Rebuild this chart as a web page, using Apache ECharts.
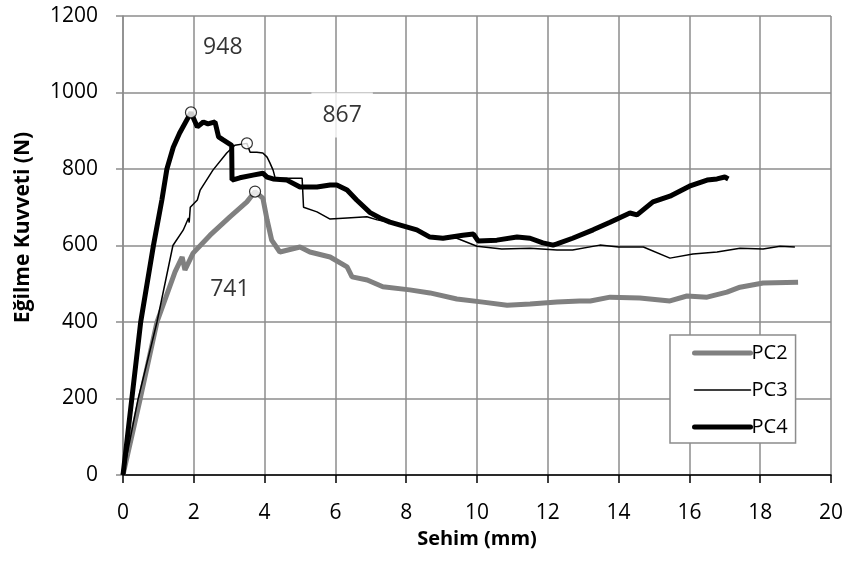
<!DOCTYPE html>
<html><head><meta charset="utf-8">
<script src="https://cdn.jsdelivr.net/npm/echarts@6/dist/echarts.min.js"></script>
<style>html,body{margin:0;padding:0;background:#fff}#c{width:850px;height:567px}</style>
</head><body><div id="c"></div>
<script>
const xTicks = [0,2,4,6,8,10,12,14,16,18,20];
const yTicks = [0,200,400,600,800,1000,1200];
const seriesNames = ['PC2','PC3','PC4'];
const pc2 = [[0,0],[0.5,205],[0.96,400],[1.47,531],[1.67,570],[1.75,536],[1.98,580],[2.46,627],[3.02,675],[3.5,714],[3.73,741],[3.95,724],[4.07,667],[4.2,614],[4.43,583],[5.0,596],[5.28,583],[5.85,570],[6.33,544],[6.47,518],[6.9,510],[7.34,492],[8.1,484],[8.67,476],[9.43,460],[10.17,452],[10.85,444],[11.5,447],[12.26,452],[12.9,455],[13.2,455],[13.76,465],[14.6,463],[15.45,455],[15.93,468],[16.5,465],[17.06,478],[17.43,491],[18.08,502],[19.07,504]];
const pc3 = [[0,0],[0.42,196],[0.96,400],[1.41,600],[1.7,640],[1.85,672],[1.87,660],[1.9,700],[2.1,719],[2.18,745],[2.54,797],[2.93,842],[3.16,862],[3.5,867],[3.59,844],[3.78,844],[3.95,842],[4.07,831],[4.15,816],[4.24,797],[4.3,776],[5.06,776],[5.1,700],[5.48,688],[5.85,669],[6.33,672],[6.89,675],[7.18,667],[7.54,660],[8.3,640],[8.67,622],[9.04,619],[9.43,619],[10.0,598],[10.7,591],[11.5,593],[12.26,588],[12.7,588],[13.47,601],[14.0,596],[14.7,596],[15.45,567],[16.1,578],[16.78,583],[17.43,593],[18.08,591],[18.56,598],[18.98,596]];
const pc4 = [[0,0],[0.5,400],[0.86,600],[1.1,720],[1.24,800],[1.42,857],[1.6,894],[1.92,948],[2.1,910],[2.27,923],[2.4,918],[2.6,923],[2.7,884],[2.83,876],[3.07,862],[3.08,771],[3.3,777],[3.67,784],[3.95,789],[4.07,779],[4.24,774],[4.63,771],[5.0,753],[5.48,753],[5.85,758],[6.04,758],[6.33,745],[6.6,719],[6.98,686],[7.26,672],[7.54,661],[8.3,641],[8.67,622],[9.04,619],[9.6,627],[9.9,630],[10.03,612],[10.56,614],[11.13,622],[11.5,619],[11.86,607],[12.15,601],[12.26,604],[12.7,619],[13.28,641],[13.76,661],[14.32,685],[14.52,680],[14.97,714],[15.45,729],[16.0,755],[16.5,771],[16.78,774],[17.0,779],[17.1,774]];
const peaks = [[1.92,948],[3.5,867],[3.73,741]];
const peakLabels = ['948','867','741'];
const labelAnchors = [[2.82,1119],[6.19,941],[3.02,484]];

const FONT = 'Open Sans';
const lineColors = {PC2:'#808080',PC3:'#000',PC4:'#000'};
const lineWidths = {PC2:5,PC3:1.5,PC4:5};
const chart = echarts.init(document.getElementById('c'));
chart.setOption({
  animation:false,
  textStyle:{fontFamily:FONT},
  grid:{left:123,right:19,top:16,bottom:92,containLabel:false,outerBoundsMode:'none'},
  xAxis:{type:'value',min:0,max:20,interval:2,
    name:'Sehim (mm)',nameLocation:'middle',nameGap:54,nameMoveOverlap:false,
    nameTextStyle:{fontFamily:FONT,fontWeight:'bold',fontSize:20,color:'#000'},
    axisLine:{show:true,lineStyle:{color:'#000',width:1.5}},
    axisTick:{show:true,length:8,lineStyle:{color:'#000',width:1.5}},
    axisLabel:{fontSize:21,color:'#000',margin:28,formatter:v=>xTicks.includes(v)?String(v):''},
    splitLine:{show:true,lineStyle:{color:'#8c8c8c',width:1.5}}},
  yAxis:{type:'value',min:0,max:1200,interval:200,
    name:'Eğilme Kuvveti (N)',nameLocation:'middle',nameGap:89,nameMoveOverlap:false,
    nameTextStyle:{fontFamily:FONT,fontWeight:'bold',fontSize:21,color:'#000',padding:[0,0,0,36]},
    axisLine:{show:true,lineStyle:{color:'#8c8c8c',width:1.5}},
    axisTick:{show:true,length:7,lineStyle:{color:'#8c8c8c',width:1.5}},
    axisLabel:{fontSize:21,color:'#000',margin:25,formatter:v=>yTicks.includes(v)?String(v):''},
    splitLine:{show:true,lineStyle:{color:'#8c8c8c',width:1.5}}},
  legend:{orient:'vertical',left:670,top:335,width:130,
    backgroundColor:'#fff',borderColor:'#8c8c8c',borderWidth:1.5,
    padding:[8,8,6,22],itemGap:17,itemWidth:56,itemHeight:18,
    textStyle:{fontFamily:FONT,fontSize:20,color:'#000',padding:[0,0,0,-4]},
    data:seriesNames.map(n=>({name:n,itemStyle:{opacity:0},
      lineStyle:{color:lineColors[n],width:lineWidths[n],cap:'round'}}))},
  series:[
    {name:'PC2',type:'line',data:pc2,symbol:'none',lineStyle:{color:lineColors.PC2,width:lineWidths.PC2},itemStyle:{color:'#808080'},z:2},
    {name:'PC3',type:'line',data:pc3,symbol:'none',lineStyle:{color:lineColors.PC3,width:lineWidths.PC3},itemStyle:{color:'#000'},z:3},
    {name:'PC4',type:'line',data:pc4,symbol:'none',lineStyle:{color:lineColors.PC4,width:lineWidths.PC4},itemStyle:{color:'#000'},z:4},
    {type:'scatter',data:peaks,symbol:'circle',symbolSize:11,itemStyle:{color:'#fff',borderColor:'#000',borderWidth:1.2},z:6,silent:true},
    {type:'scatter',data:labelAnchors.map((p,i)=>({value:p,label:{formatter:peakLabels[i],
        backgroundColor:i===1?'#fff':'transparent',padding:i===1?[11,11,11,11]:0}})),
      symbolSize:0,z:7,silent:true,itemStyle:{color:'#000'},
      label:{show:true,position:'inside',fontFamily:FONT,fontSize:23,color:'#000',textBorderWidth:0}}
  ]
});
</script></body></html>
